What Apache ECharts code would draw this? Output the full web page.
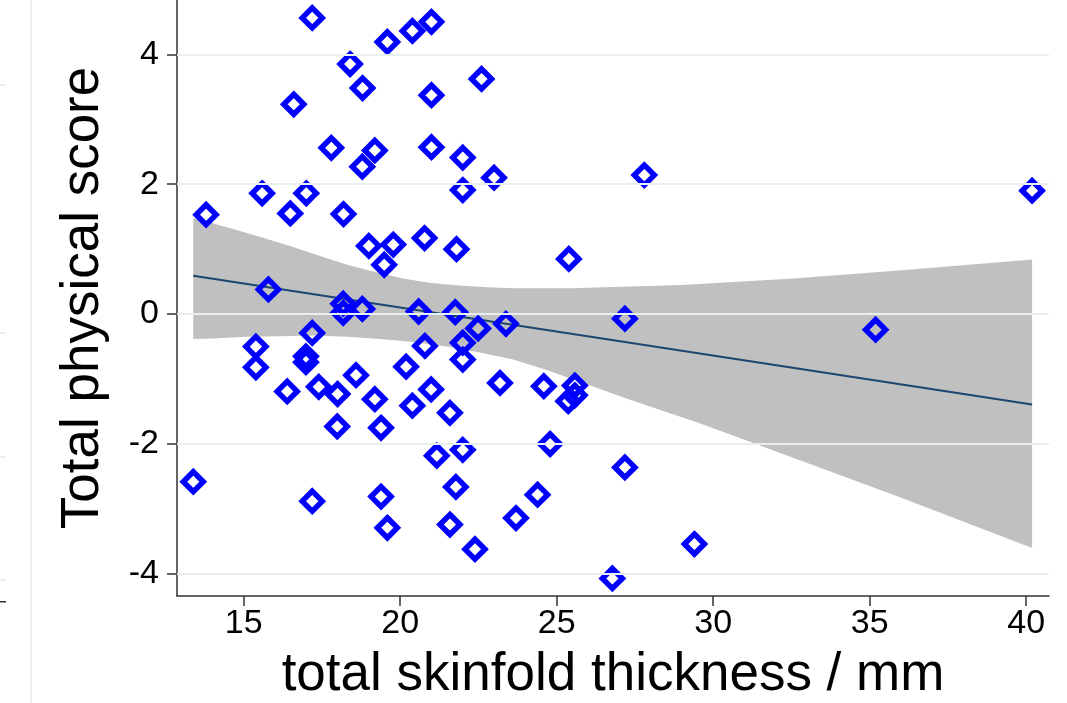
<!DOCTYPE html>
<html>
<head>
<meta charset="utf-8">
<title>skinfold vs physical score</title>
<script src="https://cdn.jsdelivr.net/npm/echarts@6/dist/echarts.min.js"></script>
<style>
  html, body { margin: 0; padding: 0; background: #fff; }
  #chart { width: 1067px; height: 703px; }
</style>
</head>
<body>
<div id="chart"></div>
<script>
// observed points: total skinfold thickness (mm) / total physical score
const skinfold = [
  17.19, 18.40, 18.80, 19.59, 20.39, 21.00, 16.60, 17.80, 19.19, 18.79,
  21.00, 21.00, 22.00, 22.00, 15.59, 17.00, 16.49, 18.19, 13.80, 19.00,
  19.78, 20.78, 21.80, 22.60, 23.00, 27.80, 40.19, 15.79, 18.18, 18.18,
  18.79, 20.59, 21.76, 19.49, 15.39, 15.39, 17.19, 16.99, 16.99, 16.39,
  17.40, 18.00, 18.59, 19.19, 17.99, 19.39, 20.19, 20.39, 20.79, 20.99,
  21.59, 22.00, 22.00, 21.17, 22.00, 21.78, 21.59, 22.39, 13.39, 17.19,
  19.39, 19.59, 22.49, 23.38, 27.18, 23.19, 24.59, 25.58, 25.58, 25.37,
  24.79, 27.18, 24.39, 23.70, 26.78, 29.40, 25.39, 35.19
];
const physScore = [
  4.56, 3.85, 3.48, 4.19, 4.36, 4.50, 3.23, 2.56, 2.52, 2.27,
  3.37, 2.57, 2.41, 1.91, 1.86, 1.86, 1.55, 1.54, 1.53, 1.05,
  1.07, 1.17, 1.00, 3.62, 2.10, 2.14, 1.90, 0.38, 0.16, 0.02,
  0.08, 0.04, 0.03, 0.76, -0.50, -0.82, -0.29, -0.65, -0.74, -1.19,
  -1.12, -1.23, -0.94, -1.31, -1.73, -1.75, -0.81, -1.41, -0.49, -1.16,
  -1.52, -0.44, -0.70, -2.18, -2.09, -2.66, -3.24, -3.62, -2.58, -2.88,
  -2.81, -3.29, -0.22, -0.15, -0.07, -1.06, -1.11, -1.10, -1.25, -1.34,
  -2.00, -2.36, -2.78, -3.14, -4.07, -3.54, 0.85, -0.24
];

// fitted line end points
const fitX = [13.39, 40.19];
const fitY = [0.59, -1.39];

// confidence band
const ciUpperX = [13.39, 14.75, 15.64, 16.53, 17.42, 18.31, 19.20, 20.09, 20.98, 21.88, 22.77, 23.66, 25.44, 29.0, 32.57, 36.13, 40.19];
const ciUpperY = [1.48, 1.30, 1.17, 1.04, 0.90, 0.76, 0.65, 0.55, 0.48, 0.44, 0.415, 0.40, 0.40, 0.45, 0.55, 0.68, 0.84];
const ciLowerX = [13.39, 14.03, 15.10, 16.16, 17.22, 18.29, 19.35, 20.42, 21.49, 22.55, 23.61, 24.68, 25.74, 27.34, 29.57, 32.77, 35.97, 40.19];
const ciLowerY = [-0.385, -0.375, -0.35, -0.34, -0.33, -0.35, -0.385, -0.43, -0.50, -0.59, -0.70, -0.86, -1.04, -1.32, -1.68, -2.25, -2.82, -3.60];

const xTicks = [15, 20, 25, 30, 35, 40];
const yTicks = [-4, -2, 0, 2, 4];

const font = "'Liberation Sans', Arial, Helvetica, sans-serif";

const myChart = echarts.init(document.getElementById("chart"), null, { renderer: "canvas" });

let points = [];
for (let i = 0; i < skinfold.length; i++) {
  points.push([skinfold[i], physScore[i]]);
}
let fitLine = [];
for (let i = 0; i < fitX.length; i++) {
  fitLine.push([fitX[i], fitY[i]]);
}

let option = {
  animation: false,
  backgroundColor: "#fff",
  grid: {
    left: 177,
    right: 18,
    top: 0,
    bottom: 107,
    containLabel: false,
    outerBoundsMode: "none",
  },
  // bits of the neighbouring panel at the left edge
  graphic: [
    { type: "rect", shape: { x: 30, y: 0, width: 2, height: 703 }, style: { fill: "#e9eff3" }, silent: true },
    { type: "rect", shape: { x: 0, y: 84, width: 6, height: 2 }, style: { fill: "#e9eff3" }, silent: true },
    { type: "rect", shape: { x: 0, y: 332, width: 6, height: 2 }, style: { fill: "#e9eff3" }, silent: true },
    { type: "rect", shape: { x: 0, y: 456, width: 6, height: 2 }, style: { fill: "#e9eff3" }, silent: true },
    { type: "rect", shape: { x: 0, y: 579, width: 6, height: 2 }, style: { fill: "#e9eff3" }, silent: true },
    { type: "rect", shape: { x: 0, y: 601, width: 6, height: 1.5 }, style: { fill: "#333" }, silent: true },
  ],
  xAxis: {
    type: "value",
    min: 12.87,
    max: 40.73,
    name: "total skinfold thickness / mm",
    nameLocation: "middle",
    nameGap: 53,
    nameTextStyle: { fontFamily: font, fontSize: 53, color: "#000" },
    axisLine: { show: true, onZero: false, lineStyle: { color: "#333", width: 1.5 } },
    axisTick: { show: true, length: 10, customValues: xTicks, lineStyle: { color: "#333", width: 1.5 } },
    axisLabel: { customValues: xTicks, fontFamily: font, fontSize: 34, color: "#000", margin: 11 },
    splitLine: { show: false },
  },
  yAxis: {
    type: "value",
    min: -4.34,
    max: 4.836,
    name: "Total physical score",
    nameLocation: "middle",
    nameRotate: 90,
    nameGap: 67,
    nameTextStyle: { fontFamily: font, fontSize: 53, color: "#000" },
    axisLine: { show: true, onZero: false, lineStyle: { color: "#333", width: 1.5 } },
    axisTick: { show: true, length: 10, customValues: yTicks, lineStyle: { color: "#333", width: 1.5 } },
    axisLabel: { customValues: yTicks, fontFamily: font, fontSize: 34, color: "#000", margin: 18 },
    splitLine: { show: false },
  },
  series: [
    {
      // horizontal grid lines at the y ticks
      type: "line",
      data: [],
      z: 1,
      silent: true,
      markLine: {
        silent: true,
        symbol: "none",
        label: { show: false },
        lineStyle: { color: "#e8eff1", width: 2, type: "solid" },
        data: yTicks.map(function (v) { return { yAxis: v }; }),
      },
    },
    {
      type: "custom",
      z: 2,
      silent: true,
      data: [[ciUpperX[0], ciUpperY[0]]],
      renderItem: function (params, api) {
        let pts = [];
        for (let i = 0; i < ciUpperX.length; i++) {
          pts.push(api.coord([ciUpperX[i], ciUpperY[i]]));
        }
        for (let i = ciLowerX.length - 1; i >= 0; i--) {
          pts.push(api.coord([ciLowerX[i], ciLowerY[i]]));
        }
        return {
          type: "polygon",
          shape: { points: pts, smooth: 0 },
          style: { fill: "#c0c0c0" },
        };
      },
    },
    {
      type: "line",
      z: 3,
      silent: true,
      data: fitLine,
      symbol: "none",
      lineStyle: { color: "#1a476f", width: 2 },
    },
    {
      type: "scatter",
      z: 4,
      silent: true,
      data: points,
      symbol: "diamond",
      symbolSize: 20,
      itemStyle: {
        color: "rgba(0,0,0,0)",
        borderColor: "#0000ff",
        borderWidth: 5.5,
        borderJoin: "miter",
        opacity: 1,
      },
    },
  ],
};
option && myChart.setOption(option);
</script>
</body>
</html>
